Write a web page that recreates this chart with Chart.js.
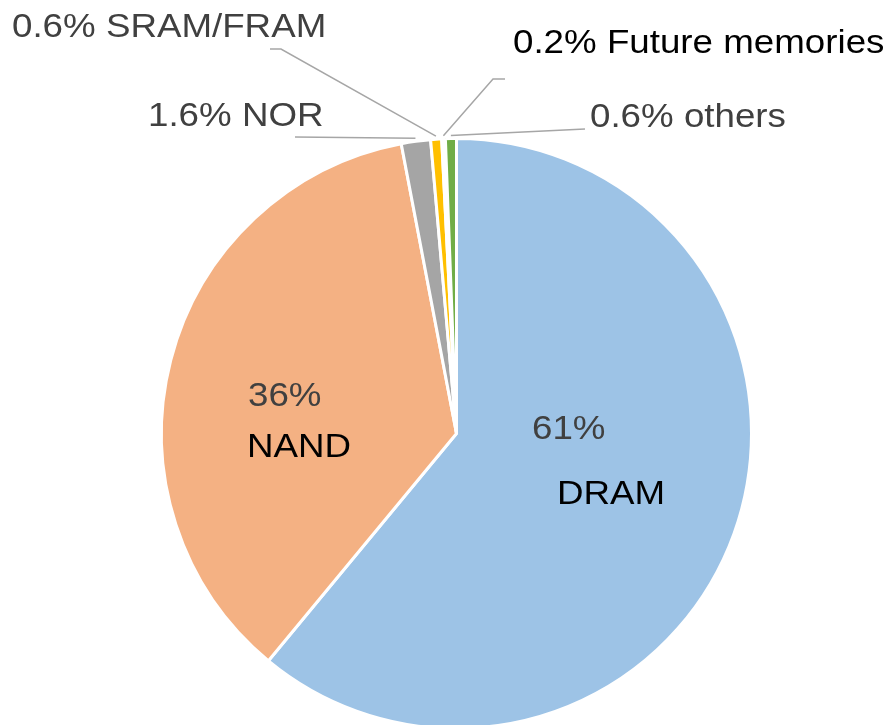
<!DOCTYPE html>
<html>
<head>
<meta charset="utf-8">
<script src="https://cdn.jsdelivr.net/npm/chart.js@4"></script>
<style>
  html, body { margin: 0; padding: 0; background: #fff; overflow: hidden; }
  #wrap { position: relative; width: 893px; height: 760px; }
</style>
</head>
<body>
<div id="wrap"><canvas id="chartMemory"></canvas></div>
<script>
// data
const categories = ["DRAM", "NAND", "NOR", "SRAM/FRAM", "Future memories", "others"];
const shares = [61, 36, 1.6, 0.6, 0.2, 0.6];
const shareLabels = ["61%", "36%", "1.6%", "0.6%", "0.2%", "0.6%"];
const colors = ["#9DC3E6", "#F4B183", "#A5A5A5", "#FFC000", "#FFFFFF", "#70AD47"];

// where the texts go (left x, baseline y) and the elbows of the leader lines
const textLayout = [
  { lines: [{ t: shareLabels[0], x: 532, y: 439, c: "#404040" }, { t: categories[0], x: 557, y: 504, c: "#000" }] },
  { lines: [{ t: shareLabels[1], x: 248, y: 406, c: "#404040" }, { t: categories[1], x: 247, y: 457, c: "#000" }] },
  { lines: [{ t: shareLabels[2] + " " + categories[2], x: 148, y: 126, c: "#404040" }], leader: [[295, 137]] },
  { lines: [{ t: shareLabels[3] + " " + categories[3], x: 12, y: 37, c: "#404040" }], leader: [[281, 49], [270, 49]] },
  { lines: [{ t: shareLabels[4] + " " + categories[4], x: 513, y: 53, c: "#000" }], leader: [[493, 79], [505, 79]] },
  { lines: [{ t: shareLabels[5] + " " + categories[5], x: 590, y: 127, c: "#404040" }], leader: [[585, 129]] },
];

const labelPlugin = {
  id: "pieLabels",
  afterDatasetsDraw(chart) {
    const ctx = chart.ctx;
    const meta = chart.getDatasetMeta(0);
    ctx.save();
    textLayout.forEach((lay, i) => {
      const arc = meta.data[i];
      const p = arc.getProps(["x", "y", "startAngle", "endAngle", "outerRadius"], true);
      if (lay.leader) {
        const mid = (p.startAngle + p.endAngle) / 2;
        const r = p.outerRadius + 3;
        ctx.beginPath();
        ctx.moveTo(p.x + Math.cos(mid) * r, p.y + Math.sin(mid) * r);
        lay.leader.forEach((pt) => ctx.lineTo(pt[0], pt[1]));
        ctx.strokeStyle = "#A6A6A6";
        ctx.lineWidth = 1.5;
        ctx.stroke();
      }
      lay.lines.forEach((ln) => {
        ctx.save();
        ctx.translate(ln.x, ln.y);
        ctx.scale(1.08, 1);
        ctx.font = "34px 'Liberation Sans', Arial, sans-serif";
        ctx.fillStyle = ln.c;
        ctx.textBaseline = "alphabetic";
        ctx.textAlign = "left";
        ctx.fillText(ln.t, 0, 0);
        ctx.restore();
      });
    });
    ctx.restore();
  },
};

let ctx = document.getElementById("chartMemory").getContext("2d");
let myChart = new Chart(ctx, {
  type: "pie",
  data: {
    labels: categories,
    datasets: [
      {
        data: shares,
        backgroundColor: colors,
        borderColor: "#FFFFFF",
        borderWidth: 3,
      },
    ],
  },
  options: {
    responsive: true,
    maintainAspectRatio: false,
    animation: false,
    layout: { padding: { top: 137, bottom: 30, left: 160, right: 140 } },
    plugins: {
      legend: { display: false },
      tooltip: { enabled: false },
    },
  },
  plugins: [labelPlugin],
});
</script>
</body>
</html>
